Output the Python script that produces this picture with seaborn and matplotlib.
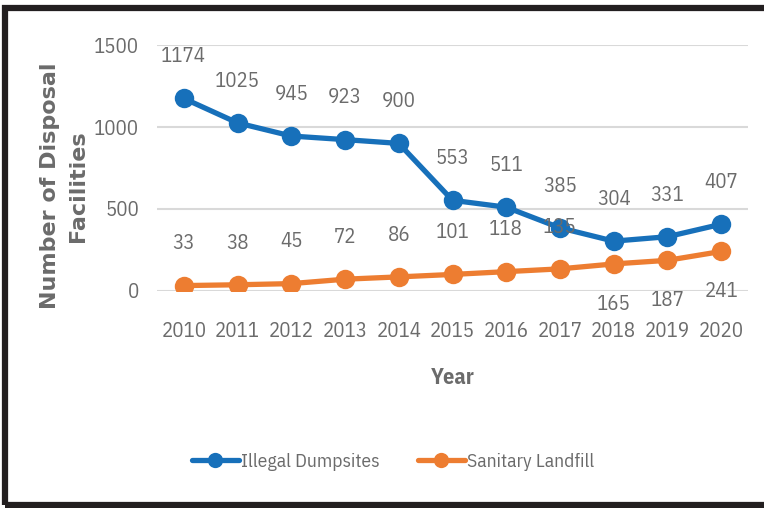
import matplotlib
matplotlib.use("Agg")
import matplotlib.pyplot as plt
import seaborn as sns
import pandas as pd
from matplotlib import font_manager as fm
from matplotlib.lines import Line2D
from matplotlib.patches import Rectangle

years = [2010, 2011, 2012, 2013, 2014, 2015, 2016, 2017, 2018, 2019, 2020]
illegal_dumpsites = [1174, 1025, 945, 923, 900, 553, 511, 385, 304, 331, 407]
sanitary_landfill = [33, 38, 45, 72, 86, 101, 118, 135, 165, 187, 241]
series_names = ["Illegal Dumpsites", "Sanitary Landfill"]
y_ticks = [0, 500, 1000, 1500]

sns.set_theme(style="white")
names = {f.name for f in fm.fontManager.ttflist}
narrow = "DejaVu Sans"
for cand in ["IBM Plex Sans Condensed", "Liberation Sans Narrow", "Open Sans Condensed"]:
    if cand in names:
        narrow = cand
        break
plt.rcParams['font.family'] = [narrow, 'DejaVu Sans']

df = pd.DataFrame({
    "Year": years * 2,
    "Value": illegal_dumpsites + sanitary_landfill,
    "Series": [series_names[0]] * len(years) + [series_names[1]] * len(years),
})

blue = "#1770BA"
orange = "#ED7D31"
txt = "#6B6B6B"
fs = 15

fig = plt.figure(figsize=(7.64, 5.08), dpi=100)
ax = fig.add_axes([157/764, 1-291/508, (748-157)/764, (291-45)/508])

sns.lineplot(data=df, x="Year", y="Value", hue="Series",
             palette={series_names[0]: blue, series_names[1]: orange},
             marker="o", markersize=14, markeredgewidth=0, linewidth=3.8,
             ax=ax, legend=False)

ax.set_xlim(years[0] - 0.5, years[-1] + 0.5)
ax.set_ylim(0, 1500)
ax.set_yticks(y_ticks)
ax.set_xticks(years)
ax.set_xticklabels([str(y) for y in years])
ax.grid(axis="y", color="#D9D9D9", linewidth=1.5)
ax.set_axisbelow(True)
for s in ax.spines.values():
    s.set_visible(False)
ax.tick_params(axis="x", length=0, pad=22, labelsize=fs, labelcolor=txt)
ax.tick_params(axis="y", length=0, pad=13, labelsize=fs, labelcolor=txt)

ax.set_xlabel("Year", fontsize=16, fontweight="bold", color=txt, labelpad=19)
ax.set_ylabel("")

for i, y in enumerate(years):
    ax.annotate(str(illegal_dumpsites[i]), (y, illegal_dumpsites[i]),
                xytext=(0, 30), textcoords="offset points",
                ha="center", va="center", fontsize=fs, color=txt)
    off = 30 if i < 8 else -29
    ax.annotate(str(sanitary_landfill[i]), (y, sanitary_landfill[i]),
                xytext=(0, off), textcoords="offset points",
                ha="center", va="center", fontsize=fs, color=txt)

fig.text(50/764, 1-186/508, "Number of Disposal", rotation=90, ha="center", va="center",
         fontsize=16, fontweight="bold", color=txt, family="DejaVu Sans")
fig.text(78/764, 1-186/508, "Facilities", rotation=90, ha="center", va="center",
         fontsize=16, fontweight="bold", color=txt, family="DejaVu Sans")

handles = [Line2D([], [], color=blue, marker="o", markersize=11, linewidth=3.8, markeredgewidth=0),
           Line2D([], [], color=orange, marker="o", markersize=11, linewidth=3.8, markeredgewidth=0)]
leg = fig.legend(handles, series_names, loc="center", bbox_to_anchor=(393/764, 1-462/508),
                 ncol=2, frameon=False, fontsize=14, handlelength=2.4, handletextpad=0.1,
                 columnspacing=2.0)
for t in leg.get_texts():
    t.set_color(txt)

fig.patches.append(Rectangle((5/764, 3/508), 1.2, 1-(11/508), transform=fig.transFigure,
                             fill=False, edgecolor="#231F20", linewidth=4.5))

fig.savefig("out.png", dpi=100)
